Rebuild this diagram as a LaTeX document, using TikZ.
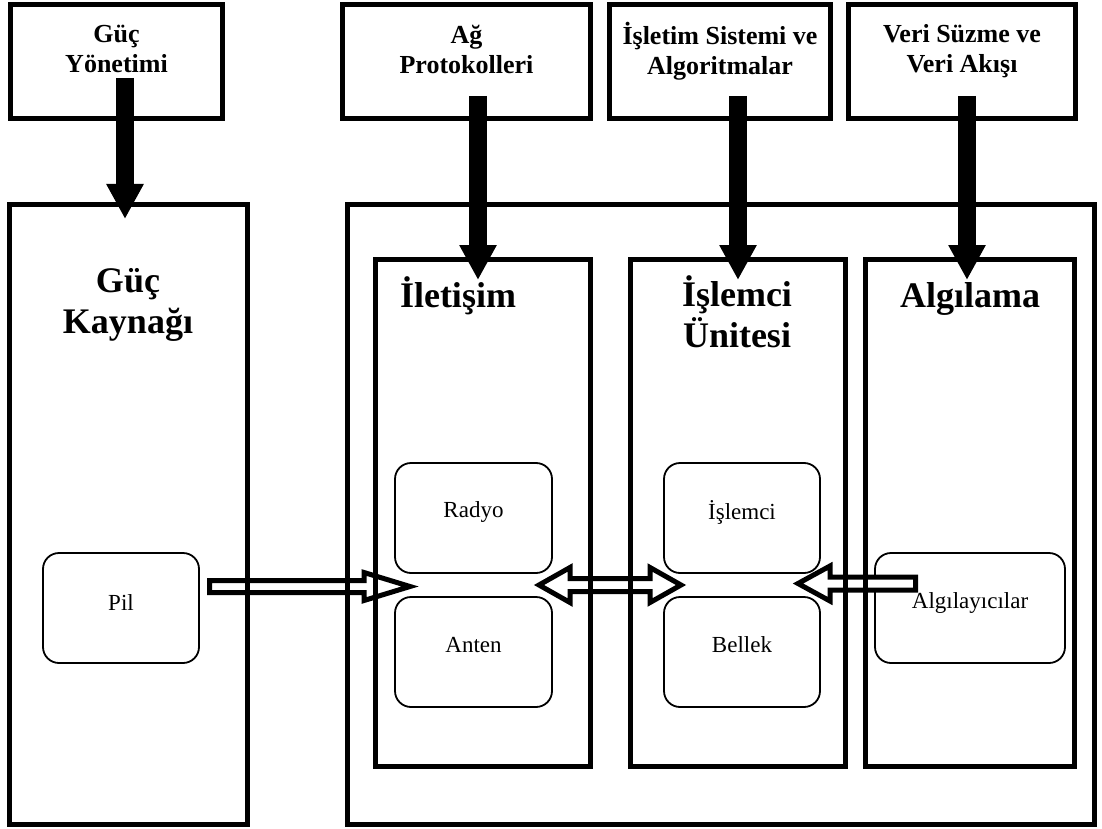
\documentclass[tikz,border=0pt]{standalone}
\usepackage{fontspec}
\setmainfont{Liberation Serif}
\usetikzlibrary{arrows.meta,calc}

% horizontal hollow block arrow: tail, tip, head length, shaft half-height, head half-height
\newcommand\hollowarrow[5]{%
  \draw[blockarrow]
    ($(#1)+(0,-#4)$) -- ($($(#2)!#3pt!(#1)$)+(0,-#4)$) --
    ($($(#2)!#3pt!(#1)$)+(0,-#5)$) -- (#2) --
    ($($(#2)!#3pt!(#1)$)+(0,#5)$) -- ($($(#2)!#3pt!(#1)$)+(0,#4)$) --
    ($(#1)+(0,#4)$) -- cycle;}
% two-headed hollow block arrow: tip, tip, head length, shaft half-height, head half-height
\newcommand\hollowdarrow[5]{%
  \draw[blockarrow]
    (#1) -- ($($(#1)!#3pt!(#2)$)+(0,-#5)$) -- ($($(#1)!#3pt!(#2)$)+(0,-#4)$) --
    ($($(#2)!#3pt!(#1)$)+(0,-#4)$) -- ($($(#2)!#3pt!(#1)$)+(0,-#5)$) -- (#2) --
    ($($(#2)!#3pt!(#1)$)+(0,#5)$) -- ($($(#2)!#3pt!(#1)$)+(0,#4)$) --
    ($($(#1)!#3pt!(#2)$)+(0,#4)$) -- ($($(#1)!#3pt!(#2)$)+(0,#5)$) -- cycle;}

\tikzset{
  frame/.style={draw, line width=5pt, inner sep=0pt},
  part/.style={draw, line width=1.8pt, rounded corners=16pt, fill=white, inner sep=0pt},
  toptitle/.style={font=\fontsize{26}{30}\selectfont\bfseries, align=center, inner sep=0pt},
  bigtitle/.style={font=\fontsize{36}{41}\selectfont\bfseries, align=center, inner sep=0pt},
  parttext/.style={font=\fontsize{23}{27}\selectfont, inner sep=0pt},
  blockarrow/.style={draw, line width=5pt, fill=white, line join=miter},
  fatarrow/.style={line width=18pt, -{Triangle[width=35pt,length=35pt]}},
}

\begin{document}
\begin{tikzpicture}[x=1pt, y=-1pt]
\useasboundingbox (0,0) rectangle (1102,829);

% components inside the units
\node[part, minimum width=156pt, minimum height=110pt] (pil) at (121,608) {};
\node[parttext] (piltxt) at (121,603) {Pil};
\node[part, minimum width=157pt, minimum height=110pt] (radyo) at (473.5,518) {};
\node[parttext] (radyotxt) at (473.5,512) {Radyo};
\node[part, minimum width=157pt, minimum height=110pt] (anten) at (473.5,652) {};
\node[parttext] (antentxt) at (473.5,645) {Anten};
\node[part, minimum width=156pt, minimum height=110pt] (islemci) at (742,518) {};
\node[parttext] (islemcitxt) at (742,512) {İşlemci};
\node[part, minimum width=156pt, minimum height=110pt] (bellek) at (742,652) {};
\node[parttext] (bellektxt) at (742,645) {Bellek};
\node[part, minimum width=190pt, minimum height=110pt] (sensor) at (970,608) {};
\node[parttext] (sensortxt) at (970,603) {Algılayıcılar};

% hollow data-flow arrows
\coordinate (pwrtail) at (209.5,586.5);
\coordinate (pwrtip)  at (410,586.5);
\hollowarrow{pwrtail}{pwrtip}{46}{6}{14}
\coordinate (comtip) at (539,585);
\coordinate (proctip) at (681,585);
\hollowdarrow{comtip}{proctip}{31}{6.5}{17.5}
\coordinate (sentail) at (915.5,583.5);
\coordinate (sentip)  at (798,583.5);
\hollowarrow{sentail}{sentip}{32}{6.5}{17.5}

% software layers
\node[frame, minimum width=212pt, minimum height=114pt] (gy)   at (116.5,61.5) {};
\node[frame, minimum width=248pt, minimum height=114pt] (ag)   at (466.5,61.5) {};
\node[frame, minimum width=221pt, minimum height=114pt] (isl)  at (720,61.5) {};
\node[frame, minimum width=227pt, minimum height=114pt] (veri) at (962,61.5) {};
\node[toptitle] (gytxt)   at (116.5,49) {Güç\\Yönetimi};
\node[toptitle] (agtxt)   at (466.5,49) {Ağ\\Protokolleri};
\node[toptitle] (isltxt)  at (720,51) {İşletim Sistemi ve\\Algoritmalar};
\node[toptitle] (veritxt) at (962,51) {Veri Süzme ve\\Veri Akışı};

% hardware units
\node[frame, minimum width=238pt, minimum height=620pt] (gk)   at (128.5,514.5) {};
\node[frame, minimum width=747pt, minimum height=620pt] (node) at (721,514.5) {};
\node[frame, minimum width=215pt, minimum height=507pt] (ilet) at (483,513) {};
\node[frame, minimum width=215pt, minimum height=507pt] (iun)  at (738,513) {};
\node[frame, minimum width=209pt, minimum height=507pt] (alg)  at (970,513) {};
\node[bigtitle] (gktxt) at (128,305) {Güç\\Kaynağı};
\node[bigtitle, anchor=base] (ilettxt) at (458,307) {İletişim};
\node[bigtitle] (iuntxt) at (737,312) {İşlemci\\Ünitesi};
\node[bigtitle, anchor=base] (algtxt) at (970,307) {Algılama};

% layer-to-unit arrows
\coordinate (gyfrom) at (125,78);   \coordinate (gyto) at (125,219);
\coordinate (agfrom) at (478,96);   \coordinate (agto) at (478,280);
\coordinate (islfrom) at (738,96);  \coordinate (islto) at (738,280);
\coordinate (verifrom) at (967,96); \coordinate (verito) at (967,280);
\draw[fatarrow] (gyfrom) -- (gyto);
\draw[fatarrow] (agfrom) -- (agto);
\draw[fatarrow] (islfrom) -- (islto);
\draw[fatarrow] (verifrom) -- (verito);
\end{tikzpicture}
\end{document}
